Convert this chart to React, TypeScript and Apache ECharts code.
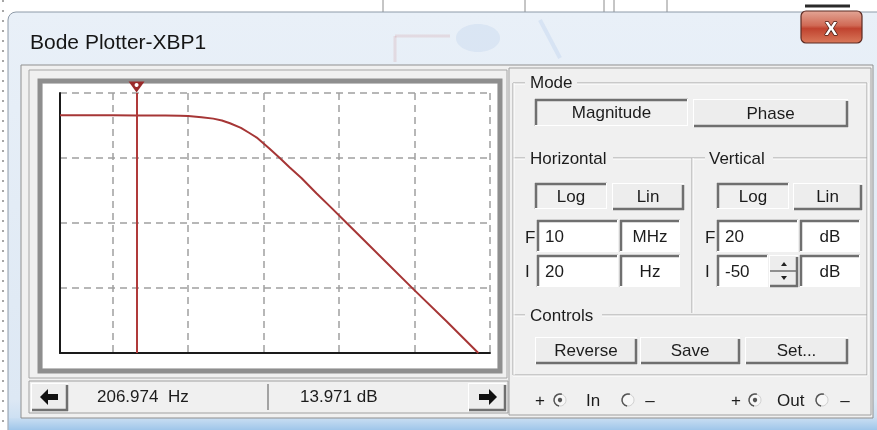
import React, { useEffect, useRef } from "react";
import * as echarts from "echarts";

// ---- data (Bode magnitude plot) ----
const freqHz = [20, 100, 207, 500, 780, 1000, 1500, 2150, 2800, 3580, 5000, 6400, 8100, 9900, 12000, 16500, 22000, 31900, 50000, 79800, 126000, 250000, 428000, 964000, 2670000, 7000000];
const gainDb = [14.0, 13.99, 13.97, 13.93, 13.88, 13.8, 13.5, 13.1, 12.6, 11.85, 10.6, 9.3, 8.0, 6.5, 5.0, 2.45, 0.0, -2.95, -7.0, -11.0, -15.0, -21.0, -25.7, -32.8, -41.5, -50.0];
const freqRange = [20, 10000000]; // I = 20 Hz, F = 10 MHz
const gainRange = [-50, 20]; // I = -50 dB, F = 20 dB
const gridDivisions = 4;
const cursorFreqHz = 206.974;
const readoutTexts = ["206.974  Hz", "13.971 dB"];
const windowTitle = "Bode Plotter-XBP1";

const FONT = '"Liberation Sans", Arial, sans-serif';
const TXT = "#1c1c1c";
const DARK = "#6f6f6f";

function buildUi() {
  const els: any[] = [];
  const rect = (x: number, y: number, w: number, h: number, fill: any, stroke: string = "none", lw = 1, r: any = 0) =>
    els.push({ type: "rect", z: -1, silent: true, shape: { x, y, width: w, height: h, r }, style: { fill, stroke, lineWidth: lw } });
  const line = (x1: number, y1: number, x2: number, y2: number, stroke: string, lw = 1, dash?: number[]) =>
    els.push({ type: "line", z: -1, silent: true, shape: { x1, y1, x2, y2 }, style: { stroke, lineWidth: lw, lineDash: dash } });
  const text = (t: string, x: number, y: number, size = 17, align = "left", color = TXT, weight = "normal", extra: any = {}) =>
    els.push({ type: "text", z: -1, silent: true, x, y, style: { text: t, fontSize: size, fontFamily: FONT, fontWeight: weight, fill: color, align, verticalAlign: "middle", ...extra } });
  const poly = (pts: number[][], fill: string) => els.push({ type: "polygon", z: -1, silent: true, shape: { points: pts }, style: { fill } });

  const raised = (x: number, y: number, w: number, h: number, label?: string) => {
    rect(x, y, w, h, "#ededed");
    line(x, y + 0.5, x + w, y + 0.5, "#ffffff", 1);
    line(x + 0.5, y, x + 0.5, y + h, "#ffffff", 1);
    line(x + 1, y + h - 1, x + w, y + h - 1, DARK, 2.5);
    line(x + w - 1, y + 2, x + w - 1, y + h, DARK, 2.5);
    if (label) text(label, x + w / 2, y + h / 2, 17, "center");
  };
  const sunken = (x: number, y: number, w: number, h: number, fill: string, label?: string, align = "center", tx?: number) => {
    rect(x, y, w, h, fill);
    line(x, y + 1, x + w, y + 1, DARK, 2.5);
    line(x + 1, y, x + 1, y + h, DARK, 2.5);
    line(x, y + h - 0.5, x + w, y + h - 0.5, "#ffffff", 1);
    line(x + w - 0.5, y, x + w - 0.5, y + h, "#ffffff", 1);
    if (label) text(label, align === "center" ? x + w / 2 : (tx ?? x + 8), y + h / 2, 17, align);
  };
  const radio = (cx: number, cy: number, on: boolean) => {
    els.push({ type: "circle", z: -1, silent: true, shape: { cx, cy, r: 6 }, style: { fill: "#f7f7f7", stroke: "#d0d0d0", lineWidth: 1 } });
    els.push({ type: "arc", z: -1, silent: true, shape: { cx, cy, r: 6, startAngle: Math.PI * 0.55, endAngle: Math.PI * 1.6 }, style: { stroke: "#555", lineWidth: 1.5, fill: "none" } });
    if (on) els.push({ type: "circle", z: -1, silent: true, shape: { cx, cy, r: 2.2 }, style: { fill: "#555" } });
  };

  // page background & faint schematic behind the window
  rect(0, 0, 877, 430, "#ffffff");
  line(3, 0, 3, 430, "#8a8a8a", 1.5, [2, 8]);
  [383, 525, 604, 614, 667].forEach((x) => line(x, 0, x, 12, "#8c8c8c", 1));
  line(805, 6, 850, 6, "#2a2a2a", 3);

  // window frame (glass)
  rect(8, 12, 880, 430, { type: "linear", x: 0, y: 0, x2: 0, y2: 1, colorStops: [{ offset: 0, color: "#e9f0f8" }, { offset: 0.9, color: "#dde8f4" }, { offset: 1, color: "#b9d6f1" }] }, "#8e9aa8", 1, [8, 8, 0, 0]);
  rect(9, 418, 870, 12, { type: "linear", x: 0, y: 0, x2: 0, y2: 1, colorStops: [{ offset: 0, color: "#c9def2" }, { offset: 1, color: "#9fc6ea" }] });
  // faint schematic seen through the glass
  line(395, 62, 395, 36, "rgba(200,120,130,0.18)", 3);
  line(395, 36, 450, 36, "rgba(200,120,130,0.18)", 3);
  els.push({ type: "ellipse", z: -1, silent: true, shape: { cx: 478, cy: 38, rx: 22, ry: 14 }, style: { fill: "rgba(120,160,220,0.13)" } });
  line(540, 20, 560, 58, "rgba(120,160,220,0.15)", 4);

  text(windowTitle, 30, 41, 21, "left", "#151515");

  // close button
  rect(801, 11, 61, 32, { type: "linear", x: 0, y: 0, x2: 0, y2: 1, colorStops: [{ offset: 0, color: "#e3a595" }, { offset: 0.45, color: "#d06a55" }, { offset: 0.55, color: "#c0432f" }, { offset: 1, color: "#d9785a" }] }, "#5b2a22", 1.2, 5);
  text("X", 831, 28, 19, "center", "#ffffff", "bold", { stroke: "#4a2018", lineWidth: 1.5 });

  // client area
  rect(21, 65, 852, 353, "#f0f0f0", "#8f8f8f", 1);

  // plot panel
  rect(29, 70, 478, 308, "none", "#a6a6a6", 1);
  rect(43, 84, 454, 284, "#ffffff");
  rect(40, 81, 460, 290, "none", "#8e8e8e", 5);

  // readout bar
  rect(29, 381, 479, 32, "#f0f0f0", "#a0a0a0", 1);
  raised(31, 383, 37, 28);
  poly([[40, 397], [48, 389], [48, 394], [58, 394], [58, 400], [48, 400], [48, 405]], "#111");
  raised(468, 383, 38, 28);
  poly([[497, 397], [489, 389], [489, 394], [479, 394], [479, 400], [489, 400], [489, 405]], "#111");
  line(268, 384, 268, 410, "#8a8a8a", 1.5);
  text(readoutTexts[0], 97, 396, 17);
  text(readoutTexts[1], 300, 396, 17);

  // right panel
  rect(509, 68, 362, 347, "none", "#a0a0a0", 1);
  const g = "#a2a2a2";
  const etched = (x1: number, y1: number, x2: number, y2: number) => {
    line(x1, y1, x2, y2, g, 1);
    if (y1 === y2) line(x1, y1 + 1, x2, y2 + 1, "#ffffff", 1);
    else line(x1 + 1, y1, x2 + 1, y2, "#ffffff", 1);
  };
  etched(513, 83, 525, 83); etched(577, 83, 867, 83);
  etched(513, 158, 525, 158); etched(613, 158, 692, 158);
  etched(692, 158, 705, 158); etched(773, 158, 867, 158);
  etched(692, 158, 692, 313);
  etched(513, 315, 525, 315); etched(602, 315, 867, 315);
  etched(513, 375, 867, 375);
  etched(513, 83, 513, 375); etched(867, 83, 867, 375);
  text("Mode", 530, 82);
  text("Horizontal", 530, 158);
  text("Vertical", 709, 158);
  text("Controls", 530, 315);

  sunken(535, 99, 153, 27, "#f0f0f0", "Magnitude");
  raised(693, 99, 155, 28, "Phase");
  sunken(535, 183, 72, 26, "#f0f0f0", "Log");
  raised(612, 183, 72, 27, "Lin");
  sunken(717, 183, 72, 26, "#f0f0f0", "Log");
  raised(793, 183, 69, 27, "Lin");

  text("F", 525, 237);
  sunken(537, 220, 81, 32, "#ffffff", "10", "left", 545);
  sunken(620, 220, 60, 32, "#ffffff", "MHz");
  text("I", 525, 271);
  sunken(537, 255, 81, 32, "#ffffff", "20", "left", 545);
  sunken(620, 255, 60, 32, "#ffffff", "Hz");

  text("F", 705, 237);
  sunken(717, 220, 81, 32, "#ffffff", "20", "left", 725);
  sunken(800, 220, 60, 32, "#ffffff", "dB");
  text("I", 705, 271);
  sunken(717, 255, 51, 32, "#ffffff", "-50", "left", 725);
  raised(769, 255, 29, 32);
  line(770, 271, 797, 271, DARK, 1.5);
  poly([[781, 266], [787, 266], [784, 262]], "#222");
  poly([[781, 276], [787, 276], [784, 280]], "#222");
  sunken(800, 255, 60, 32, "#ffffff", "dB");

  raised(535, 337, 102, 27, "Reverse");
  raised(640, 337, 100, 27, "Save");
  raised(745, 337, 103, 27, "Set...");

  text("+", 540, 400, 17, "center");
  radio(560, 400, true);
  text("In", 586, 400);
  radio(628, 400, false);
  text("–", 650, 400, 17, "center");
  text("+", 736, 400, 17, "center");
  radio(755, 400, true);
  text("Out", 777, 400);
  radio(822, 400, false);
  text("–", 845, 400, 17, "center");

  return els;
}

export default function App() {
  const ref = useRef<HTMLDivElement>(null);
  useEffect(() => {
    if (!ref.current) return;
    const chart = echarts.init(ref.current, undefined, { renderer: "svg" });
    const gridLine = { show: true, lineStyle: { color: "#a0a0a0", type: [7, 5] as any, width: 1.5 } };
    chart.setOption({
      animation: false,
      backgroundColor: "transparent",
      graphic: { elements: buildUi() },
      grid: { left: 60, top: 93, width: 430, height: 260, containLabel: false },
      xAxis: {
        type: "log",
        logBase: 10,
        min: freqRange[0],
        max: freqRange[1],
        axisLine: { show: true, onZero: false, lineStyle: { color: "#1a1a1a", width: 2 } },
        axisTick: { show: false },
        axisLabel: { show: false },
        splitLine: gridLine,
      },
      yAxis: [
        {
          type: "value",
          min: gainRange[0],
          max: gainRange[1],
          axisLine: { show: true, onZero: false, lineStyle: { color: "#1a1a1a", width: 2 } },
          axisTick: { show: false },
          axisLabel: { show: false },
          splitLine: { show: false },
        },
        {
          type: "value",
          min: 0,
          max: gridDivisions,
          interval: 1,
          position: "left",
          axisLine: { show: false },
          axisTick: { show: false },
          axisLabel: { show: false },
          splitLine: gridLine,
        },
      ],
      series: [
        {
          type: "line",
          xAxisIndex: 0,
          yAxisIndex: 0,
          data: freqHz.map((f, i) => [f, gainDb[i]]),
          showSymbol: false,
          smooth: false,
          silent: true,
          lineStyle: { color: "#a63636", width: 2 },
          markLine: {
            silent: true,
            symbol: "none",
            label: { show: false },
            lineStyle: { color: "#b03a3a", width: 2, type: "solid" },
            data: [[{ coord: [cursorFreqHz, gainRange[0]] }, { coord: [cursorFreqHz, gainRange[1]] }]],
          },
          markPoint: {
            silent: true,
            label: { show: false },
            data: [
              { coord: [cursorFreqHz, gainRange[1]], symbol: "path://M0,0L16,0L8,11Z", symbolSize: [16, 11], symbolOffset: [0, -6], itemStyle: { color: "#9a2a2a" } },
              { coord: [cursorFreqHz, gainRange[1]], symbol: "circle", symbolSize: 4, symbolOffset: [0, -8], itemStyle: { color: "#ffffff" } },
            ],
          },
        },
      ],
    });
    return () => chart.dispose();
  }, []);
  return <div ref={ref} style={{ position: "fixed", left: 0, top: 0, width: 877, height: 430 }} />;
}
